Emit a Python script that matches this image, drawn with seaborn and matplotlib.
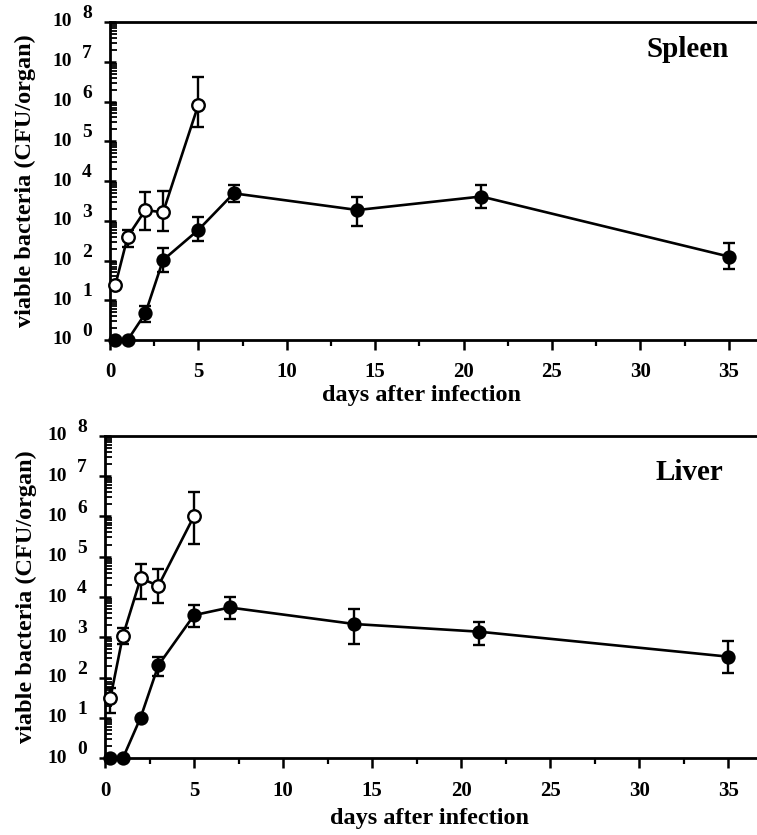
import numpy as np
import pandas as pd
import matplotlib
matplotlib.use("Agg")
import matplotlib.pyplot as plt
import matplotlib.ticker as mticker
import seaborn as sns

# ---- data (log10 CFU/organ) ----
days_open = [0.3, 1, 2, 3, 5]
days_filled = [0.3, 1, 2, 3, 5, 7, 14, 21, 35]

spleen_open = [1.38, 2.60, 3.27, 3.21, 5.92]
spleen_open_lo = [np.nan, 2.35, 2.77, 2.75, 5.36]
spleen_open_hi = [np.nan, 2.77, 3.73, 3.76, 6.62]
spleen_filled = [0, 0, 0.67, 2.01, 2.77, 3.69, 3.27, 3.61, 2.10]
spleen_filled_lo = [np.nan, np.nan, 0.46, 1.72, 2.48, 3.48, 2.87, 3.32, 1.78]
spleen_filled_hi = [np.nan, np.nan, 0.86, 2.31, 3.09, 3.90, 3.61, 3.90, 2.45]

liver_open = [1.49, 3.03, 4.46, 4.28, 6.01]
liver_open_lo = [1.13, 2.83, 3.95, 3.86, 5.31]
liver_open_hi = [1.74, 3.22, 4.82, 4.69, 6.61]
liver_filled = [0, 0, 1.01, 2.31, 3.55, 3.74, 3.33, 3.14, 2.52]
liver_filled_lo = [np.nan, np.nan, np.nan, 2.04, 3.25, 3.45, 2.83, 2.81, 2.11]
liver_filled_hi = [np.nan, np.nan, np.nan, 2.50, 3.80, 3.99, 3.70, 3.39, 2.92]

xticks = [0, 5, 10, 15, 20, 25, 30, 35]
ytick_exps = list(range(0, 9))

sns.set_style("ticks")
plt.rcParams['font.family'] = ['Liberation Serif', 'DejaVu Serif']
plt.rcParams['font.weight'] = 'bold'
plt.rcParams['text.color'] = 'black'
plt.rcParams['axes.labelcolor'] = 'black'
plt.rcParams['xtick.color'] = 'black'
plt.rcParams['ytick.color'] = 'black'

fig = plt.figure(figsize=(7.57, 8.35), dpi=100)
ax1 = fig.add_axes([110/757, 1-340/835, 1-110/757, 318/835])
ax2 = fig.add_axes([105/757, 1-758.3/835, 1-105/757, 322.6/835])


def draw(ax, name, lab_xy, xlab_xy, ylab_x, o, olo, ohi, f, flo, fhi):
    of = pd.DataFrame({"day": days_open, "cfu": 10 ** np.array(o)})
    ff = pd.DataFrame({"day": days_filled, "cfu": 10 ** np.array(f)})
    for df_x, y, lo, hi in [(days_open, o, olo, ohi), (days_filled, f, flo, fhi)]:
        y = np.array(y, float); lo = np.array(lo, float); hi = np.array(hi, float)
        m = ~np.isnan(lo)
        yy = 10 ** y[m]
        err = np.vstack([yy - 10 ** lo[m], 10 ** hi[m] - yy])
        ax.errorbar(np.array(df_x)[m], yy, yerr=err, fmt='none', ecolor='black',
                    elinewidth=1.7, capsize=4.5, capthick=1.7, zorder=2)
    sns.lineplot(data=ff, x="day", y="cfu", ax=ax, color='black', lw=1.9,
                 marker='o', markersize=9, markerfacecolor='black',
                 markeredgecolor='black', markeredgewidth=1.3, clip_on=False, zorder=3)
    sns.lineplot(data=of, x="day", y="cfu", ax=ax, color='black', lw=1.9,
                 marker='o', markersize=9, markerfacecolor='white',
                 markeredgecolor='black', markeredgewidth=1.7, clip_on=False, zorder=4)
    ax.set_yscale('log')
    ax.set_ylim(1, 1e8)
    ax.set_xlim(0, 36.6)
    ax.set_xticks(xticks)
    ax.set_xticklabels([str(t) for t in xticks], fontsize=15, fontweight='bold')
    ax.xaxis.set_minor_locator(mticker.MultipleLocator(2.5))
    ax.set_yticks([10 ** e for e in ytick_exps])
    ax.set_yticklabels(['10' for e in ytick_exps], fontsize=14, fontweight='bold')
    for lbl in ax.get_yticklabels():
        lbl.set_verticalalignment('center')
    for e in ytick_exps:
        ax.annotate(str(e), xy=(0, 10 ** e), xycoords=('axes fraction', 'data'),
                    xytext=(-16.5, 6), textcoords='offset points', ha='center', va='center',
                    fontsize=14, fontweight='bold', annotation_clip=False)
    ax.yaxis.set_minor_locator(mticker.LogLocator(base=10, subs=np.arange(2, 10), numticks=20))
    ax.yaxis.set_minor_formatter(mticker.NullFormatter())
    ax.tick_params(axis='x', which='major', direction='out', length=7, width=1.8, pad=9)
    ax.tick_params(axis='x', which='minor', direction='out', length=4, width=1.6)
    ax.tick_params(axis='y', which='major', direction='inout', length=9, width=1.8, pad=23)
    ax.tick_params(axis='y', which='minor', direction='in', length=5, width=1.3)
    for s in ['left', 'bottom', 'top']:
        ax.spines[s].set_visible(True)
        ax.spines[s].set_linewidth(2.0)
        ax.spines[s].set_color('black')
    ax.spines['right'].set_visible(False)
    ax.set_xlabel('days after infection', fontsize=17.5, fontweight='bold')
    ax.xaxis.set_label_coords(xlab_xy[0], xlab_xy[1])
    ax.xaxis.label.set_verticalalignment('top')
    ax.set_ylabel('viable bacteria (CFU/organ)', fontsize=17.5, fontweight='bold')
    ax.yaxis.set_label_coords(ylab_x, 0.5)
    ax.yaxis.label.set_verticalalignment('center')
    ax.text(lab_xy[0], lab_xy[1], name, transform=ax.transAxes, ha='right', va='center',
            fontsize=21, fontweight='bold')


draw(ax1, 'Spleen', (0.957, 0.915), (0.481, -0.14), -0.13,
     spleen_open, spleen_open_lo, spleen_open_hi,
     spleen_filled, spleen_filled_lo, spleen_filled_hi)
draw(ax2, 'Liver', (0.949, 0.886), (0.498, -0.155), -0.12,
     liver_open, liver_open_lo, liver_open_hi,
     liver_filled, liver_filled_lo, liver_filled_hi)

fig.savefig('out.png', dpi=100)
